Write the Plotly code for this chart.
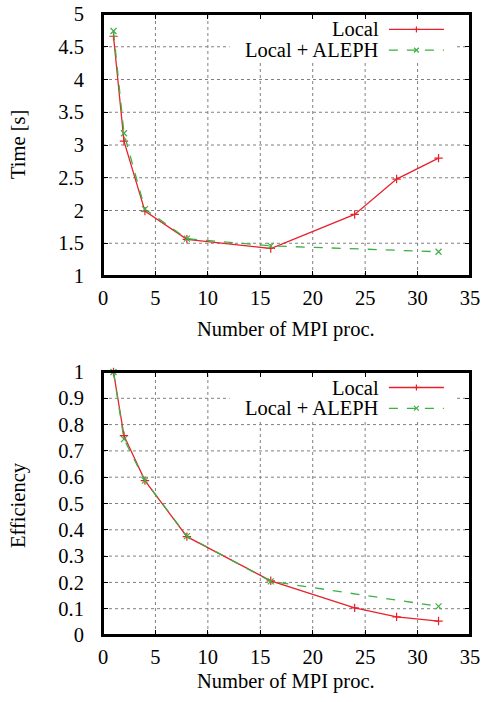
import plotly.graph_objects as go

# ---- data ----
procs_local = [1, 2, 4, 8, 16, 24, 28, 32]
time_local = [4.66, 3.06, 1.99, 1.56, 1.42, 1.94, 2.48, 2.80]
eff_local = [1.0, 0.758, 0.587, 0.374, 0.206, 0.103, 0.069, 0.053]

procs_aleph = [1, 2, 4, 8, 16, 32]
time_aleph = [4.74, 3.18, 2.02, 1.57, 1.46, 1.37]
eff_aleph = [1.0, 0.745, 0.587, 0.376, 0.204, 0.109]

x_ticks = [0, 5, 10, 15, 20, 25, 30, 35]
time_ticks = [1, 1.5, 2, 2.5, 3, 3.5, 4, 4.5, 5]
eff_ticks = [0, 0.1, 0.2, 0.3, 0.4, 0.5, 0.6, 0.7, 0.8, 0.9, 1]

series_names = ["Local", "Local + ALEPH"]
RED = "#e8202a"
GREEN = "#3cb043"
GRID = "#808080"
INK = "rgb(0,0,0)"
FONT = "Liberation Serif"
FS = 20.5

X_RANGE = [0, 35]
TIME_RANGE = [1, 5]
EFF_RANGE = [0, 1]

fig = go.Figure()

def add_series(x, y, xa, ya, color, dash, symbol, name):
    fig.add_trace(go.Scatter(
        x=x, y=y, xaxis=xa, yaxis=ya, mode="lines+markers", name=name,
        showlegend=False, cliponaxis=False,
        line=dict(color=color, width=1.3, dash=dash),
        marker=dict(symbol=symbol, size=6, color=color,
                    line=dict(color=color, width=1.2)),
    ))

add_series(procs_local, time_local, "x", "y", RED, "solid", "cross-thin", series_names[0])
add_series(procs_aleph, time_aleph, "x", "y", GREEN, "dash", "x-thin", series_names[1])
add_series(procs_local, eff_local, "x2", "y2", RED, "solid", "cross-thin", series_names[0])
add_series(procs_aleph, eff_aleph, "x2", "y2", GREEN, "dash", "x-thin", series_names[1])

xd = [103 / 483, 470 / 483]
common_x = dict(
    range=X_RANGE, tickvals=x_ticks, ticks="inside", ticklen=5, tickwidth=1, tickcolor=INK,
    showline=True, linecolor=INK, linewidth=2, mirror="allticks", layer="above traces",
    showgrid=False, zeroline=False, automargin=False, ticklabelstandoff=2,
    tickfont=dict(family=FONT, size=FS, color="black"), domain=xd,
)
common_y = dict(
    ticks="inside", ticklen=5, tickwidth=1, tickcolor=INK,
    showline=True, linecolor=INK, linewidth=2, mirror="allticks", layer="above traces",
    showgrid=False, zeroline=False, automargin=False, ticklabelstandoff=13,
    tickfont=dict(family=FONT, size=FS, color="black"),
)

fig.update_layout(
    width=483, height=702,
    margin=dict(l=0, r=0, t=0, b=0),
    paper_bgcolor="white", plot_bgcolor="white",
    xaxis=dict(common_x, anchor="y"),
    yaxis=dict(common_y, range=TIME_RANGE, tickvals=time_ticks,
               domain=[1 - 276 / 702, 1 - 14 / 702], anchor="x"),
    xaxis2=dict(common_x, anchor="y2"),
    yaxis2=dict(common_y, range=EFF_RANGE, tickvals=eff_ticks,
                domain=[1 - 635 / 702, 1 - 372 / 702], anchor="x2"),
    showlegend=False,
)

shapes = []
annotations = []

for xs, ys, yr_, yt in [("x", "y", TIME_RANGE, time_ticks), ("x2", "y2", EFF_RANGE, eff_ticks)]:
    xr = xs + " domain"
    yr = ys + " domain"
    # dotted grid (drawn as shapes so the key box can hide it)
    for t in x_ticks:
        if X_RANGE[0] < t < X_RANGE[1]:
            shapes.append(dict(type="line", xref=xs, yref=yr, x0=t, x1=t, y0=0, y1=1,
                               line=dict(color=GRID, width=1, dash="dot"), layer="below"))
    for t in yt:
        if yr_[0] < t < yr_[1]:
            shapes.append(dict(type="line", xref=xr, yref=ys, x0=0, x1=1, y0=t, y1=t,
                               line=dict(color=GRID, width=1, dash="dot"), layer="below"))
    # key box
    shapes.append(dict(type="rect", xref=xr, yref=yr, x0=0.345, x1=0.96, y0=0.815, y1=0.995,
                       fillcolor="white", line=dict(width=0), layer="below"))
    # key entries: text right-aligned, sample on the right
    rows = [(0.941, RED, "solid", series_names[0]),
            (0.862, GREEN, "dash", series_names[1])]
    for yy, col, dash, name in rows:
        shapes.append(dict(type="line", xref=xr, yref=yr, x0=0.779, x1=0.929, y0=yy, y1=yy,
                           line=dict(color=col, width=1.3, dash=dash), layer="above"))
        annotations.append(dict(xref=xr, yref=yr, x=0.757, y=yy, xanchor="right", yanchor="middle",
                                text=name, showarrow=False,
                                font=dict(family=FONT, size=FS, color="black")))
    cx = 0.854
    hx = 3 / 367
    hy = 3 / 263
    shapes.append(dict(type="line", xref=xr, yref=yr, x0=cx, x1=cx, y0=0.941 - hy, y1=0.941 + hy,
                       line=dict(color=RED, width=1.2)))
    shapes.append(dict(type="line", xref=xr, yref=yr, x0=cx - hx, x1=cx + hx, y0=0.941, y1=0.941,
                       line=dict(color=RED, width=1.2)))
    shapes.append(dict(type="line", xref=xr, yref=yr, x0=cx - hx * 0.8, x1=cx + hx * 0.8,
                       y0=0.862 - hy * 0.8, y1=0.862 + hy * 0.8, line=dict(color=GREEN, width=1.2)))
    shapes.append(dict(type="line", xref=xr, yref=yr, x0=cx - hx * 0.8, x1=cx + hx * 0.8,
                       y0=0.862 + hy * 0.8, y1=0.862 - hy * 0.8, line=dict(color=GREEN, width=1.2)))
    # frame (paper-referenced so it is never clipped)
    ydom = fig.layout["yaxis" if ys == "y" else "yaxis2"].domain
    shapes.append(dict(type="rect", xref="paper", yref="paper",
                       x0=xd[0], x1=xd[1], y0=ydom[0], y1=ydom[1],
                       line=dict(color=INK, width=2), fillcolor="rgba(0,0,0,0)", layer="above"))

# axis titles
for y in [1 - 329 / 702, 1 - 681 / 702]:
    annotations.append(dict(xref="paper", yref="paper", x=286 / 483, y=y, xanchor="center",
                            yanchor="middle", text="Number of MPI proc.", showarrow=False,
                            font=dict(family=FONT, size=FS, color="black")))
annotations.append(dict(xref="paper", yref="paper", x=18 / 483, y=1 - 145 / 702, textangle=-90,
                        xanchor="center", yanchor="middle", text="Time [s]", showarrow=False,
                        font=dict(family=FONT, size=FS, color="black")))
annotations.append(dict(xref="paper", yref="paper", x=18 / 483, y=1 - 505 / 702, textangle=-90,
                        xanchor="center", yanchor="middle", text="Efficiency", showarrow=False,
                        font=dict(family=FONT, size=FS, color="black")))

fig.update_layout(shapes=shapes, annotations=annotations)
fig.write_html("out.html", config={"displayModeBar": False},
               post_script="document.body.style.margin='0';")
